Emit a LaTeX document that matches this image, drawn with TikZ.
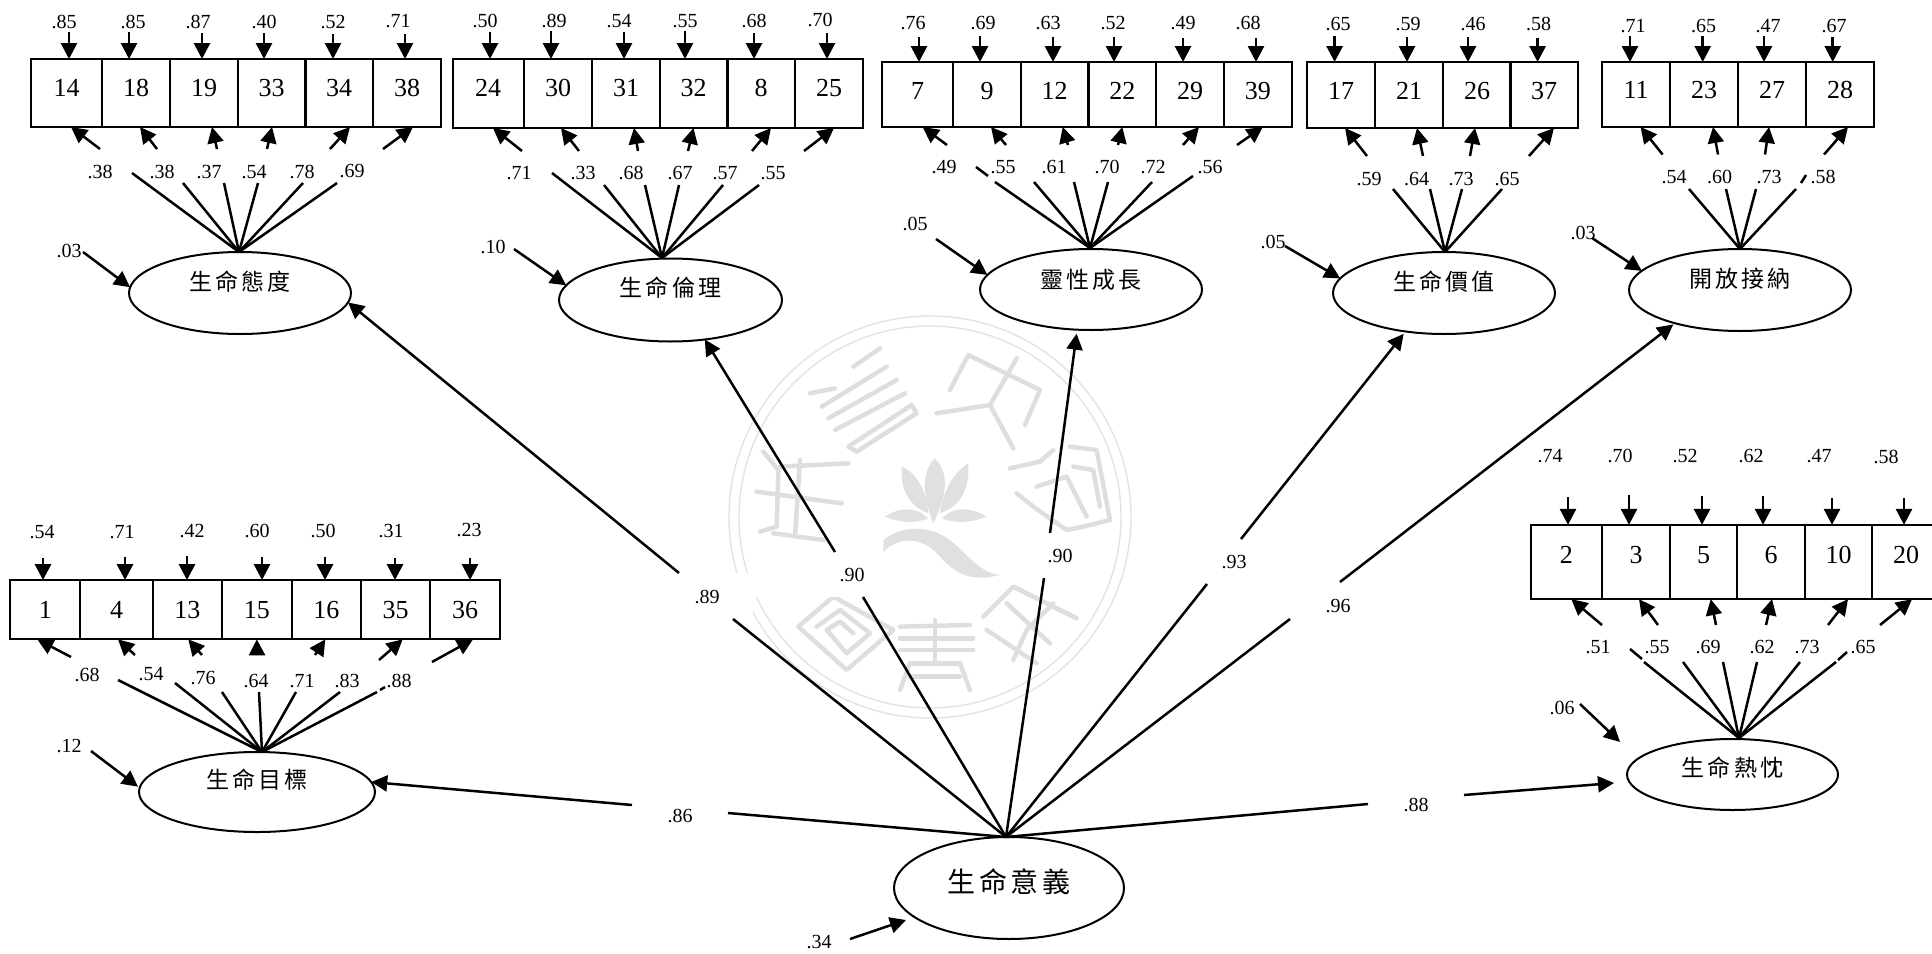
\documentclass[tikz,border=0pt]{standalone}
\usepackage{fontspec}
\setmainfont{Liberation Serif}
\newfontfamily\cjkfont[LetterSpace=14]{Noto Sans CJK TC}
\usetikzlibrary{arrows.meta,shapes.geometric}
\tikzset{
  itembox/.style={draw,line width=2pt,inner sep=0pt,outer sep=0pt,minimum width=68pt,font=\fontsize{26}{30}\selectfont,text height=18pt},
  val/.style={inner sep=0pt,font=\fontsize{20}{24}\selectfont},
  latent/.style={ellipse,draw,line width=2pt,inner sep=0pt,outer sep=0pt,font=\fontsize{23}{26}\cjkfont,text height=20pt},
  errarrow/.style={line width=2.8pt,-{Triangle[length=16pt,width=16pt]}},
  loadarrow/.style={line width=2.5pt,-{Triangle[length=16pt,width=16pt]}},
  loadline/.style={line width=2.5pt},
  ring/.style={draw=black!11,line width=1.4pt},
  seal/.style={draw=black!13,line width=4.5pt,line join=round,line cap=round},
  petal/.style={fill=black!12}
}
\begin{document}
\begin{tikzpicture}[x=1pt,y=-1pt]%Modelo de factores de segundo orden
    \useasboundingbox (0,0) rectangle (1932,953);

    %sello de fondo
    \draw[ring] (930,517) circle[radius=201pt];
    \draw[ring] (930,517) circle[radius=191pt];
    \begin{scope}[shift={(720,310)},x=0.3333pt,y=-0.3333pt]
        \draw[seal] (690,240) -- (745,135) -- (960,240) -- (915,345);
        \draw[seal] (890,145) -- (810,285) -- (880,415);
        \draw[seal] (650,310) -- (810,285);
        \draw[seal] (270,250) -- (345,235);
        \draw[seal] (400,170) -- (480,115);
        \draw[seal] (305,290) -- (500,170);
        \draw[seal] (325,325) -- (530,210);
        \draw[seal] (345,360) -- (555,250);
        \draw[seal] (385,410) -- (575,285) -- (590,310) -- (410,425) -- cycle;
        \draw[seal] (130,425) -- (175,480) -- (170,650) -- (120,665);
        \draw[seal] (180,470) -- (385,460);
        \draw[seal] (110,545) -- (365,580);
        \draw[seal] (160,670) -- (310,690);
        \draw[seal] (240,450) -- (225,680);
        \draw[seal] (870,475) -- (960,455) -- (1000,420);
        \draw[seal] (890,550) -- (940,590) -- (1040,660) -- (1090,650);
        \draw[seal] (1050,410) -- (1130,420) -- (1170,630) -- (1090,650);
        \draw[seal] (1060,470) -- (1120,480) -- (1140,590);
        \draw[seal] (950,530) -- (1040,500) -- (1100,620);
        \draw[seal] (235,950) -- (340,860) -- (520,960) -- (380,1080) -- cycle;
        \draw[seal] (290,950) -- (360,900) -- (450,970) -- (380,1030) -- (320,960) -- (360,935) -- (400,970);
        \draw[seal] (540,950) -- (750,945);
        \draw[seal] (540,985) -- (760,985);
        \draw[seal] (540,1020) -- (760,1020);
        \draw[seal] (570,1060) -- (720,1060);
        \draw[seal] (570,1100) -- (720,1100);
        \draw[seal] (540,1140) -- (570,1060);
        \draw[seal] (750,1140) -- (720,1060);
        \draw[seal] (645,930) -- (645,1060);
        \draw[seal] (790,920) -- (880,830) -- (1070,925);
        \draw[seal] (800,960) -- (950,1060);
        \draw[seal] (860,880) -- (990,1000);
        \draw[seal] (880,1050) -- (920,960) -- (1000,880);
        \fill[petal] (645,445) .. controls (600,490) and (610,560) .. (640,640) .. controls (680,560) and (690,490) .. (645,445);
        \fill[petal] (545,470) .. controls (540,540) and (570,590) .. (625,610) .. controls (620,540) and (590,490) .. (545,470);
        \fill[petal] (745,460) .. controls (750,540) and (720,590) .. (660,610) .. controls (670,540) and (700,490) .. (745,460);
        \fill[petal] (495,620) .. controls (540,590) and (590,590) .. (625,625) .. controls (590,640) and (540,640) .. (495,620);
        \fill[petal] (800,620) .. controls (750,590) and (700,590) .. (665,625) .. controls (700,640) and (750,640) .. (800,620);
        \fill[petal] (490,690) .. controls (540,650) and (620,640) .. (690,690) .. controls (740,730) and (780,790) .. (840,795) .. controls (780,810) and (720,810) .. (660,740) .. controls (620,690) and (550,670) .. (490,725) -- cycle;
    \end{scope}
    \fill[white] (679,573) rectangle (753,619);
    \fill[white] (753,573) rectangle (900,597);
    \fill[white] (837,552) rectangle (900,597);
    \fill[white] (1003,543) rectangle (1085,578);

    \node[latent,minimum width=230pt,minimum height=102pt,text depth=12pt,font=\fontsize{28}{30}\cjkfont] (v0) at (1009,888) {生命意義};
    \node[latent,minimum width=222pt,minimum height=82pt,text depth=25pt] (v1) at (240,293) {生命態度};
    \node[latent,minimum width=223pt,minimum height=83pt,text depth=27pt] (v2) at (670.5,300) {生命倫理};
    \node[latent,minimum width=222pt,minimum height=81pt,text depth=22pt] (v3) at (1091,289.5) {靈性成長};
    \node[latent,minimum width=222pt,minimum height=82pt,text depth=25pt] (v4) at (1444,293) {生命價值};
    \node[latent,minimum width=222pt,minimum height=82pt,text depth=25pt] (v5) at (1740,290) {開放接納};
    \node[latent,minimum width=236pt,minimum height=80pt,text depth=27pt] (v6) at (257,792) {生命目標};
    \node[latent,minimum width=211pt,minimum height=71pt,text depth=17pt] (v7) at (1732.5,774.5) {生命熱忱};

    %caminos principales
    \coordinate (top0) at (1006,837);
    \coordinate (m1u) at (679,573);
    \coordinate (m1d) at (733,619);
    \coordinate (m2u) at (835,552);
    \coordinate (m2d) at (863,597);
    \coordinate (m3u) at (1050,533);
    \coordinate (m3d) at (1044,578);
    \coordinate (m4u) at (1241,539);
    \coordinate (m4d) at (1207,584);
    \coordinate (m5u) at (1340,582);
    \coordinate (m5d) at (1290,619);
    \coordinate (m6u) at (632,805);
    \coordinate (m6d) at (728,813);
    \coordinate (m7u) at (1464,795);
    \coordinate (m7d) at (1368,804);
    \coordinate (r7) at (1614,783);
    \draw[loadarrow] (m1u) -- (v1.355);
    \draw[loadarrow] (m2u) -- (v2.311);
    \draw[loadarrow,shorten >=4pt] (m3u) -- (v3.251);
    \draw[loadarrow,shorten >=3pt] (m4u) -- (v4.225);
    \draw[loadarrow,shorten >=2pt] (m5u) -- (v5.207);
    \draw[loadarrow] (m6u) -- (v6.5);
    \draw[loadarrow] (m7u) -- (r7);
    \draw[loadline] (m1d) -- (top0);
    \draw[loadline] (m2d) -- (top0);
    \draw[loadline] (m3d) -- (top0);
    \draw[loadline] (m4d) -- (top0);
    \draw[loadline] (m5d) -- (top0);
    \draw[loadline] (m6d) -- (top0);
    \draw[loadline] (m7d) -- (top0);
    \node[val] (g1) at (707,597) {.89};
    \node[val] (g2) at (852,575) {.90};
    \node[val] (g3) at (1060,556) {.90};
    \node[val] (g4) at (1234,562) {.93};
    \node[val] (g5) at (1338,606) {.96};
    \node[val] (g6) at (680,816) {.86};
    \node[val] (g7) at (1416,805) {.88};

    %perturbaciones
    \node[val] (z0) at (819,942) {.34};
    \node[val] (z1) at (69,251) {.03};
    \node[val] (z2) at (493,247) {.10};
    \node[val] (z3) at (915,224) {.05};
    \node[val] (z4) at (1273,242) {.05};
    \node[val] (z5) at (1583,233) {.03};
    \node[val] (z6) at (69,746) {.12};
    \node[val] (z7) at (1562,708) {.06};
    \coordinate (s0) at (850,939);
    \coordinate (q0) at (906,920);
    \coordinate (s1) at (83,252);
    \coordinate (s2) at (514,249);
    \coordinate (s3) at (936,239);
    \coordinate (s4) at (1285,246);
    \coordinate (s5) at (1592,238);
    \coordinate (s6) at (91,751);
    \coordinate (s7) at (1580,704);
    \coordinate (q7) at (1620,742);
    \draw[loadarrow] (s0) -- (q0);
    \draw[loadarrow] (s1) -- (v1.177);
    \draw[loadarrow] (s2) -- (v2.172);
    \draw[loadarrow] (s3) -- (v3.172);
    \draw[loadarrow] (s4) -- (v4.172);
    \draw[loadarrow] (s5) -- (v5.169);
    \draw[loadarrow,shorten >=2pt] (s6) -- (v6.178);
    \draw[loadarrow] (s7) -- (q7);

    %primer grupo
    \coordinate (top1) at (239,252);
    \begin{scope}[itembox/.append style={minimum height=68pt,text depth=12pt}]
        \node[itembox,minimum width=71pt] (b14) at (66.5,93) {14};
        \node[itembox] (b18) at (136,93) {18};
        \node[itembox] (b19) at (204,93) {19};
        \node[itembox] (b33) at (271.5,93) {33};
        \node[itembox] (b34) at (339,93) {34};
        \node[itembox] (b38) at (407,93) {38};
    \end{scope}
    \node[val] (t14) at (64,22) {.85};
    \node[val] (t18) at (133,22) {.85};
    \node[val] (t19) at (198,22) {.87};
    \node[val] (t33) at (264,22) {.40};
    \node[val] (t34) at (333,22) {.52};
    \node[val] (t38) at (398,21) {.71};
    \coordinate (e14) at (69,32);
    \coordinate (e18) at (129,32);
    \coordinate (e19) at (202,33);
    \coordinate (e33) at (264,33);
    \coordinate (e34) at (333,34);
    \coordinate (e38) at (405,34);
    \draw[errarrow] (e14) -- (e14 |- b14.north);
    \draw[errarrow] (e18) -- (e18 |- b18.north);
    \draw[errarrow] (e19) -- (e19 |- b19.north);
    \draw[errarrow] (e33) -- (e33 |- b33.north);
    \draw[errarrow] (e34) -- (e34 |- b34.north);
    \draw[errarrow] (e38) -- (e38 |- b38.north);
    \node[val] (l14) at (100,172) {.38};
    \node[val] (l18) at (162,172) {.38};
    \node[val] (l19) at (209,172) {.37};
    \node[val] (l33) at (254,172) {.54};
    \node[val] (l34) at (302,172) {.78};
    \node[val] (l38) at (352,171) {.69};
    \coordinate (u14) at (100,149);
    \coordinate (u18) at (157,149);
    \coordinate (u19) at (217,149);
    \coordinate (u33) at (267,149);
    \coordinate (u34) at (330,149);
    \coordinate (u38) at (383,149);
    \draw[loadarrow] (u14) -- ([xshift=4.5pt]b14.south);
    \draw[loadarrow] (u18) -- ([xshift=4pt]b18.south);
    \draw[loadarrow] (u19) -- ([xshift=8pt]b19.south);
    \draw[loadarrow] (u33) -- ([xshift=0.5pt]b33.south);
    \draw[loadarrow] (u34) -- ([xshift=11pt]b34.south);
    \draw[loadarrow] (u38) -- ([xshift=6pt]b38.south);
    \coordinate (d14) at (132,173);
    \coordinate (d18) at (183,183);
    \coordinate (d19) at (224,183);
    \coordinate (d33) at (258,183);
    \coordinate (d34) at (303,183);
    \coordinate (d38) at (337,183);
    \draw[loadline] (d14) -- (top1);
    \draw[loadline] (d18) -- (top1);
    \draw[loadline] (d19) -- (top1);
    \draw[loadline] (d33) -- (top1);
    \draw[loadline] (d34) -- (top1);
    \draw[loadline] (d38) -- (top1);

    %segundo grupo
    \coordinate (top2) at (662,258);
    \begin{scope}[itembox/.append style={minimum height=69pt,text depth=13pt}]
        \node[itembox,minimum width=71pt] (b24) at (488,93.5) {24};
        \node[itembox] (b30) at (558,93.5) {30};
        \node[itembox] (b31) at (626,93.5) {31};
        \node[itembox] (b32) at (693.5,93.5) {32};
        \node[itembox] (b8) at (761,93.5) {8};
        \node[itembox] (b25) at (829,93.5) {25};
    \end{scope}
    \node[val] (t24) at (485,21) {.50};
    \node[val] (t30) at (554,21) {.89};
    \node[val] (t31) at (619,21) {.54};
    \node[val] (t32) at (685,21) {.55};
    \node[val] (t8) at (754,21) {.68};
    \node[val] (t25) at (820,20) {.70};
    \coordinate (e24) at (490,32);
    \coordinate (e30) at (551,31);
    \coordinate (e31) at (624,32);
    \coordinate (e32) at (685,31);
    \coordinate (e8) at (754,33);
    \coordinate (e25) at (827,33);
    \draw[errarrow] (e24) -- (e24 |- b24.north);
    \draw[errarrow] (e30) -- (e30 |- b30.north);
    \draw[errarrow] (e31) -- (e31 |- b31.north);
    \draw[errarrow] (e32) -- (e32 |- b32.north);
    \draw[errarrow] (e8) -- (e8 |- b8.north);
    \draw[errarrow] (e25) -- (e25 |- b25.north);
    \node[val] (l24) at (519,173) {.71};
    \node[val] (l30) at (583,173) {.33};
    \node[val] (l31) at (631,173) {.68};
    \node[val] (l32) at (680,173) {.67};
    \node[val] (l8) at (725,173) {.57};
    \node[val] (l25) at (773,173) {.55};
    \coordinate (u24) at (522,151);
    \coordinate (u30) at (579,151);
    \coordinate (u31) at (638,151);
    \coordinate (u32) at (688,151);
    \coordinate (u8) at (752,151);
    \coordinate (u25) at (804,151);
    \draw[loadarrow] (u24) -- ([xshift=5pt]b24.south);
    \draw[loadarrow] (u30) -- ([xshift=3pt]b30.south);
    \draw[loadarrow] (u31) -- ([xshift=8pt]b31.south);
    \draw[loadarrow] (u32) -- ([xshift=0pt]b32.south);
    \draw[loadarrow] (u8) -- ([xshift=10pt]b8.south);
    \draw[loadarrow] (u25) -- ([xshift=5pt]b25.south);
    \coordinate (d24) at (552,173);
    \coordinate (d30) at (604,185);
    \coordinate (d31) at (645,185);
    \coordinate (d32) at (679,185);
    \coordinate (d8) at (723,185);
    \coordinate (d25) at (759,185);
    \draw[loadline] (d24) -- (top2);
    \draw[loadline] (d30) -- (top2);
    \draw[loadline] (d31) -- (top2);
    \draw[loadline] (d32) -- (top2);
    \draw[loadline] (d8) -- (top2);
    \draw[loadline] (d25) -- (top2);

    %tercer grupo
    \coordinate (top3) at (1090,248);
    \begin{scope}[itembox/.append style={minimum height=65pt,text depth=9pt}]
        \node[itembox,minimum width=71pt] (b7) at (917.7,94.5) {7};
        \node[itembox] (b9) at (987,94.5) {9};
        \node[itembox] (b12) at (1054.7,94.5) {12};
        \node[itembox] (b22) at (1122.3,94.5) {22};
        \node[itembox] (b29) at (1190,94.5) {29};
        \node[itembox] (b39) at (1257.8,94.5) {39};
    \end{scope}
    \node[val] (t7) at (913,23.5) {.76};
    \node[val] (t9) at (983,23.5) {.69};
    \node[val] (t12) at (1048,23.5) {.63};
    \node[val] (t22) at (1113,23.5) {.52};
    \node[val] (t29) at (1183,23.5) {.49};
    \node[val] (t39) at (1248,22.5) {.68};
    \coordinate (e7) at (919,37);
    \coordinate (e9) at (980,36);
    \coordinate (e12) at (1053,37);
    \coordinate (e22) at (1114,37);
    \coordinate (e29) at (1183,38);
    \coordinate (e39) at (1256,38);
    \draw[errarrow] (e7) -- (e7 |- b7.north);
    \draw[errarrow] (e9) -- (e9 |- b9.north);
    \draw[errarrow] (e12) -- (e12 |- b12.north);
    \draw[errarrow] (e22) -- (e22 |- b22.north);
    \draw[errarrow] (e29) -- (e29 |- b29.north);
    \draw[errarrow] (e39) -- (e39 |- b39.north);
    \node[val] (l7) at (944,167) {.49};
    \node[val] (l9) at (1003,167) {.55};
    \node[val] (l12) at (1054,167) {.61};
    \node[val] (l22) at (1107,167) {.70};
    \node[val] (l29) at (1153,167) {.72};
    \node[val] (l39) at (1210,167) {.56};
    \coordinate (u7) at (947,145);
    \coordinate (u9) at (1006,145);
    \coordinate (u12) at (1068,145);
    \coordinate (u22) at (1118,145);
    \coordinate (u29) at (1183,145);
    \coordinate (u39) at (1237,145);
    \draw[loadarrow] (u7) -- ([xshift=5pt]b7.south);
    \draw[loadarrow] (u9) -- ([xshift=4pt]b9.south);
    \draw[loadarrow] (u12) -- ([xshift=8pt]b12.south);
    \draw[loadarrow] (u22) -- ([xshift=0pt]b22.south);
    \draw[loadarrow] (u29) -- ([xshift=9pt]b29.south);
    \draw[loadarrow] (u39) -- ([xshift=5pt]b39.south);
    \coordinate (f7a) at (976,167);
    \coordinate (f7b) at (988,176);
    \coordinate (d7) at (995,182);
    \coordinate (d9) at (1034,182);
    \coordinate (d12) at (1074,182);
    \coordinate (d22) at (1108,182);
    \coordinate (d29) at (1152,182);
    \coordinate (d39) at (1193,176);
    \draw[loadline] (f7a) -- (f7b);
    \draw[loadline] (d7) -- (top3);
    \draw[loadline] (d9) -- (top3);
    \draw[loadline] (d12) -- (top3);
    \draw[loadline] (d22) -- (top3);
    \draw[loadline] (d29) -- (top3);
    \draw[loadline] (d39) -- (top3);

    %cuarto grupo
    \coordinate (top4) at (1445,252);
    \begin{scope}[itembox/.append style={minimum height=66pt,minimum width=67.5pt,text depth=10pt}]
        \node[itembox] (b17) at (1341,95) {17};
        \node[itembox] (b21) at (1409,95) {21};
        \node[itembox] (b26) at (1477,95) {26};
        \node[itembox] (b37) at (1544,95) {37};
    \end{scope}
    \node[val] (t17) at (1338,24) {.65};
    \node[val] (t21) at (1408,24) {.59};
    \node[val] (t26) at (1473,24) {.46};
    \node[val] (t37) at (1538.5,24) {.58};
    \coordinate (e17) at (1334.6,36);
    \coordinate (e21) at (1407,37);
    \coordinate (e26) at (1468,37);
    \coordinate (e37) at (1537.6,38);
    \draw[errarrow] (e17) -- (e17 |- b17.north);
    \draw[errarrow] (e21) -- (e21 |- b21.north);
    \draw[errarrow] (e26) -- (e26 |- b26.north);
    \draw[errarrow] (e37) -- (e37 |- b37.north);
    \node[val] (l17) at (1369,179.5) {.59};
    \node[val] (l21) at (1416.5,179.5) {.64};
    \node[val] (l26) at (1461,179.5) {.73};
    \node[val] (l37) at (1507,179.5) {.65};
    \coordinate (u17) at (1367,156);
    \coordinate (u21) at (1423,156);
    \coordinate (u26) at (1470,156);
    \coordinate (u37) at (1529,156);
    \draw[loadarrow] (u17) -- ([xshift=4pt]b17.south);
    \draw[loadarrow] (u21) -- ([xshift=8pt]b21.south);
    \draw[loadarrow] (u26) -- ([xshift=-2pt]b26.south);
    \draw[loadarrow] (u37) -- ([xshift=10pt]b37.south);
    \coordinate (d17) at (1393,189);
    \coordinate (d21) at (1430,189);
    \coordinate (d26) at (1462,189);
    \coordinate (d37) at (1502,189);
    \draw[loadline] (d17) -- (top4);
    \draw[loadline] (d21) -- (top4);
    \draw[loadline] (d26) -- (top4);
    \draw[loadline] (d37) -- (top4);

    %quinto grupo
    \coordinate (top5) at (1740,249);
    \begin{scope}[itembox/.append style={minimum height=65pt,minimum width=68pt,text depth=11pt}]
        \node[itembox] (b11) at (1636,94.5) {11};
        \node[itembox] (b23) at (1704,94.5) {23};
        \node[itembox] (b27) at (1772,94.5) {27};
        \node[itembox] (b28) at (1840,94.5) {28};
    \end{scope}
    \node[val] (t11) at (1633,26) {.71};
    \node[val] (t23) at (1703.5,26) {.65};
    \node[val] (t27) at (1768,26) {.47};
    \node[val] (t28) at (1834,26) {.67};
    \coordinate (e11) at (1630,36);
    \coordinate (e23) at (1702.7,36);
    \coordinate (e27) at (1764,36);
    \coordinate (e28) at (1832.7,37);
    \draw[errarrow] (e11) -- (e11 |- b11.north);
    \draw[errarrow] (e23) -- (e23 |- b23.north);
    \draw[errarrow] (e27) -- (e27 |- b27.north);
    \draw[errarrow] (e28) -- (e28 |- b28.north);
    \node[val] (l11) at (1674,177) {.54};
    \node[val] (l23) at (1719.6,177) {.60};
    \node[val] (l27) at (1769,177) {.73};
    \node[val] (l28) at (1823,177) {.58};
    \coordinate (u11) at (1662.6,154.5);
    \coordinate (u23) at (1718,154.5);
    \coordinate (u27) at (1765,154.5);
    \coordinate (u28) at (1824,154.5);
    \draw[loadarrow] (u11) -- ([xshift=4.6pt]b11.south);
    \draw[loadarrow] (u23) -- ([xshift=9pt]b23.south);
    \draw[loadarrow] (u27) -- ([xshift=-3pt]b27.south);
    \draw[loadarrow] (u28) -- ([xshift=8pt]b28.south);
    \coordinate (d11) at (1689,189);
    \coordinate (d23) at (1726,189);
    \coordinate (d27) at (1756,189);
    \coordinate (d28) at (1796,189);
    \coordinate (f28a) at (1801,183);
    \coordinate (f28b) at (1806,175);
    \draw[loadline] (d11) -- (top5);
    \draw[loadline] (d23) -- (top5);
    \draw[loadline] (d27) -- (top5);
    \draw[loadline] (d28) -- (top5);
    \draw[loadline] (f28a) -- (f28b);

    %sexto grupo
    \coordinate (top6) at (262,752);
    \begin{scope}[itembox/.append style={minimum height=59.3pt,minimum width=69.4pt,text depth=0pt}]
        \node[itembox,minimum width=70pt] (b1) at (45.3,609.7) {1};
        \node[itembox,minimum width=72.4pt] (b4) at (116.5,609.7) {4};
        \node[itembox] (b13) at (187.3,609.7) {13};
        \node[itembox] (b15) at (256.8,609.7) {15};
        \node[itembox] (b16) at (326.3,609.7) {16};
        \node[itembox] (b35) at (395.7,609.7) {35};
        \node[itembox] (b36) at (465,609.7) {36};
    \end{scope}
    \node[val] (t1) at (42,532) {.54};
    \node[val] (t4) at (122,532) {.71};
    \node[val] (t13) at (192,531) {.42};
    \node[val] (t15) at (257,531) {.60};
    \node[val] (t16) at (323,531) {.50};
    \node[val] (t35) at (391,531) {.31};
    \node[val] (t36) at (469,530) {.23};
    \coordinate (e1) at (43,558);
    \coordinate (e4) at (125,557);
    \coordinate (e13) at (187,556);
    \coordinate (e15) at (262,557);
    \coordinate (e16) at (325,557);
    \coordinate (e35) at (395,558);
    \coordinate (e36) at (470,558);
    \draw[errarrow] (e1) -- (e1 |- b1.north);
    \draw[errarrow] (e4) -- (e4 |- b4.north);
    \draw[errarrow] (e13) -- (e13 |- b13.north);
    \draw[errarrow] (e15) -- (e15 |- b15.north);
    \draw[errarrow] (e16) -- (e16 |- b16.north);
    \draw[errarrow] (e35) -- (e35 |- b35.north);
    \draw[errarrow] (e36) -- (e36 |- b36.north);
    \node[val] (l1) at (87,675) {.68};
    \node[val] (l4) at (151,674) {.54};
    \node[val] (l13) at (203,678) {.76};
    \node[val] (l15) at (256,681) {.64};
    \node[val] (l16) at (302,681) {.71};
    \node[val] (l35) at (347,681) {.83};
    \node[val] (l36) at (399,681) {.88};
    \coordinate (u1) at (71,657);
    \coordinate (u4) at (135,655);
    \coordinate (u13) at (202,655);
    \coordinate (u15) at (257,655);
    \coordinate (u16) at (315,655);
    \coordinate (u35) at (379,660);
    \coordinate (u36) at (432,662);
    \draw[loadarrow] (u1) -- ([xshift=-8pt]b1.south);
    \draw[loadarrow] (u4) -- ([xshift=1.5pt]b4.south);
    \draw[loadarrow] (u13) -- ([xshift=1pt]b13.south);
    \draw[loadarrow] (u15) -- ([xshift=0pt]b15.south);
    \draw[loadarrow] (u16) -- ([xshift=-1pt]b16.south);
    \draw[loadarrow] (u35) -- ([xshift=7pt]b35.south);
    \draw[loadarrow] (u36) -- ([xshift=8pt]b36.south);
    \coordinate (d1) at (118,680);
    \coordinate (d4) at (175,683);
    \coordinate (d13) at (222,692);
    \coordinate (d15) at (259,692);
    \coordinate (d16) at (296,692);
    \coordinate (d35) at (340,692);
    \coordinate (d36) at (377,692);
    \coordinate (f36a) at (380,690);
    \coordinate (f36b) at (385,687);
    \draw[loadline] (d1) -- (top6);
    \draw[loadline] (d4) -- (top6);
    \draw[loadline] (d13) -- (top6);
    \draw[loadline] (d15) -- (top6);
    \draw[loadline] (d16) -- (top6);
    \draw[loadline] (d35) -- (top6);
    \draw[loadline] (d36) -- (top6);
    \draw[loadline] (f36a) -- (f36b);

    %septimo grupo
    \coordinate (top7) at (1739,738);
    \begin{scope}[itembox/.append style={minimum height=74.3pt,minimum width=67.5pt,text depth=16pt}]
        \node[itembox,minimum width=71.3pt] (b2) at (1566.3,562) {2};
        \node[itembox] (b3) at (1636,562) {3};
        \node[itembox] (b5) at (1703.7,562) {5};
        \node[itembox] (b6) at (1771,562) {6};
        \node[itembox] (b10) at (1838.5,562) {10};
        \node[itembox] (b20) at (1906,562) {20};
    \end{scope}
    \node[val] (t2) at (1550,456) {.74};
    \node[val] (t3) at (1620,456) {.70};
    \node[val] (t5) at (1685,456) {.52};
    \node[val] (t6) at (1751,456) {.62};
    \node[val] (t10) at (1819,456) {.47};
    \node[val] (t20) at (1886,457) {.58};
    \coordinate (e2) at (1568,497);
    \coordinate (e3) at (1629,495);
    \coordinate (e5) at (1702,496);
    \coordinate (e6) at (1763,496);
    \coordinate (e10) at (1832,498);
    \coordinate (e20) at (1904,498);
    \draw[errarrow] (e2) -- (e2 |- b2.north);
    \draw[errarrow] (e3) -- (e3 |- b3.north);
    \draw[errarrow] (e5) -- (e5 |- b5.north);
    \draw[errarrow] (e6) -- (e6 |- b6.north);
    \draw[errarrow] (e10) -- (e10 |- b10.north);
    \draw[errarrow] (e20) -- (e20 |- b20.north);
    \node[val] (l2) at (1598,647) {.51};
    \node[val] (l3) at (1657,647) {.55};
    \node[val] (l5) at (1708,647) {.69};
    \node[val] (l6) at (1762,647) {.62};
    \node[val] (l10) at (1807,647) {.73};
    \node[val] (l20) at (1863,647) {.65};
    \coordinate (u2) at (1602,625);
    \coordinate (u3) at (1658,625);
    \coordinate (u5) at (1716,625);
    \coordinate (u6) at (1766,625);
    \coordinate (u10) at (1828,625);
    \coordinate (u20) at (1880,625);
    \draw[loadarrow] (u2) -- ([xshift=5pt]b2.south);
    \draw[loadarrow] (u3) -- ([xshift=3pt]b3.south);
    \draw[loadarrow] (u5) -- ([xshift=7pt]b5.south);
    \draw[loadarrow] (u6) -- ([xshift=1pt]b6.south);
    \draw[loadarrow] (u10) -- ([xshift=9.5pt]b10.south);
    \draw[loadarrow] (u20) -- ([xshift=6pt]b20.south);
    \coordinate (f3a) at (1630,649);
    \coordinate (f3b) at (1642,659);
    \coordinate (d3) at (1644,662);
    \coordinate (d2) at (1683,662);
    \coordinate (d5) at (1723,662);
    \coordinate (d6) at (1757,662);
    \coordinate (d10) at (1800,662);
    \coordinate (d20) at (1836,662);
    \coordinate (f20a) at (1838,660);
    \coordinate (f20b) at (1847,652);
    \draw[loadline] (f3a) -- (f3b);
    \draw[loadline] (f20a) -- (f20b);
    \draw[loadline] (d3) -- (top7);
    \draw[loadline] (d2) -- (top7);
    \draw[loadline] (d5) -- (top7);
    \draw[loadline] (d6) -- (top7);
    \draw[loadline] (d10) -- (top7);
    \draw[loadline] (d20) -- (top7);
\end{tikzpicture}
\end{document}
